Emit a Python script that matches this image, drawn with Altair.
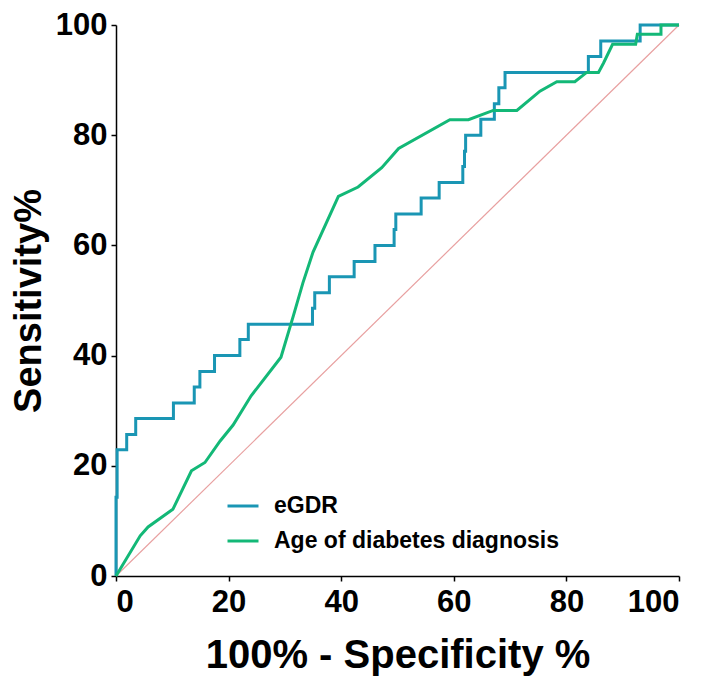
import pandas as pd
import altair as alt

# ROC points (x = 100% - specificity, y = sensitivity)
egdr_x = [0, 0, 0.2, 1.9, 3.5, 10.2, 13.9, 14.9, 17.5, 22.0, 23.5, 34.9, 35.3,
          37.9, 42.3, 46.0, 49.4, 49.7, 54.2, 57.4, 61.6, 61.9, 62.1, 64.8,
          67.2, 68.0, 69.1, 83.9, 86.1, 93.1, 100]
egdr_y = [0, 14.3, 22.9, 25.7, 28.6, 31.4, 34.3, 37.1, 40.0, 42.9, 45.7, 48.6,
          51.4, 54.3, 57.1, 60.0, 62.9, 65.7, 68.6, 71.4, 74.3, 77.1, 80.0,
          82.9, 85.7, 88.6, 91.4, 94.3, 97.1, 100, 100]

age_x = [0, 4.3, 5.7, 10.1, 13.4, 15.8, 18.5, 20.8, 24.0, 29.3, 31.5, 33.2,
         35.0, 39.5, 43.0, 47.2, 50.2, 59.3, 62.6, 67.0, 71.2, 75.3, 78.3,
         81.5, 83.6, 85.7, 86.6, 88.2, 92.3, 92.6, 96.8, 96.8, 100]
age_y = [0, 7.3, 8.9, 12.1, 19.1, 20.6, 24.5, 27.4, 32.7, 39.7, 47.2, 53.2,
         58.8, 68.9, 70.6, 74.1, 77.6, 82.8, 82.8, 84.5, 84.5, 88.0, 89.7,
         89.7, 91.4, 91.4, 93.1, 96.5, 96.5, 98.3, 98.3, 100, 100]

ref_x = [0, 100]
ref_y = [0, 100]

series = ['eGDR', 'Age of diabetes diagnosis']
colors = ['#1a96b4', '#13b877']

egdr = pd.DataFrame({'x': egdr_x, 'y': egdr_y, 'series': series[0]})
egdr['order'] = range(len(egdr))
age = pd.DataFrame({'x': age_x, 'y': age_y, 'series': series[1]})
age['order'] = range(len(age))
ref = pd.DataFrame({'x': ref_x, 'y': ref_y})

font = 'Liberation Sans'
ticks = [0, 20, 40, 60, 80, 100]

x_enc = alt.X('x:Q', scale=alt.Scale(domain=[0, 100], nice=False),
              axis=alt.Axis(values=ticks, title='100% - Specificity %',
                            titleY=91, titleBaseline='alphabetic'))
y_enc = alt.Y('y:Q', scale=alt.Scale(domain=[0, 100], nice=False),
              axis=alt.Axis(values=ticks, title='Sensitivity%',
                            titleX=-76, titleBaseline='alphabetic',
                            titleFontSize=38))
color_enc = alt.Color('series:N',
                      scale=alt.Scale(domain=series, range=colors),
                      legend=alt.Legend(title=None, orient='none',
                                        legendX=110, legendY=464))

diag = alt.Chart(ref).mark_line(color='#e8a0a0', strokeWidth=1.2).encode(
    x=x_enc, y=y_enc
)

egdr_line = alt.Chart(egdr).mark_line(interpolate='step-after', strokeWidth=3).encode(
    x=x_enc, y=y_enc, order='order:Q', color=color_enc
)

age_line = alt.Chart(age).mark_line(strokeWidth=3).encode(
    x=x_enc, y=y_enc, order='order:Q', color=color_enc
)

chart = alt.layer(diag, egdr_line, age_line).properties(
    width=563,
    height=551,
    autosize=alt.AutoSizeParams(type='none'),
    padding={'left': 108, 'top': 17, 'right': 21, 'bottom': 100}
).configure_view(
    stroke=None
).configure_axis(
    grid=False,
    domainColor='black',
    domainWidth=1.5,
    tickColor='black',
    tickWidth=1.5,
    tickSize=5,
    labelFont=font,
    labelFontSize=31,
    labelFontWeight='bold',
    labelColor='black',
    labelPadding=6,
    titleFont=font,
    titleFontSize=40,
    titleFontWeight='bold',
    titleColor='black'
).configure_axisY(
    labelPadding=4
).configure_legend(
    labelFont=font,
    labelFontSize=23,
    labelFontWeight='bold',
    labelColor='black',
    symbolType='stroke',
    symbolSize=961,
    symbolStrokeWidth=3,
    labelOffset=14,
    rowPadding=6,
    labelLimit=400
)

chart.save('out.html', embed_options={'renderer': 'svg', 'actions': False})
